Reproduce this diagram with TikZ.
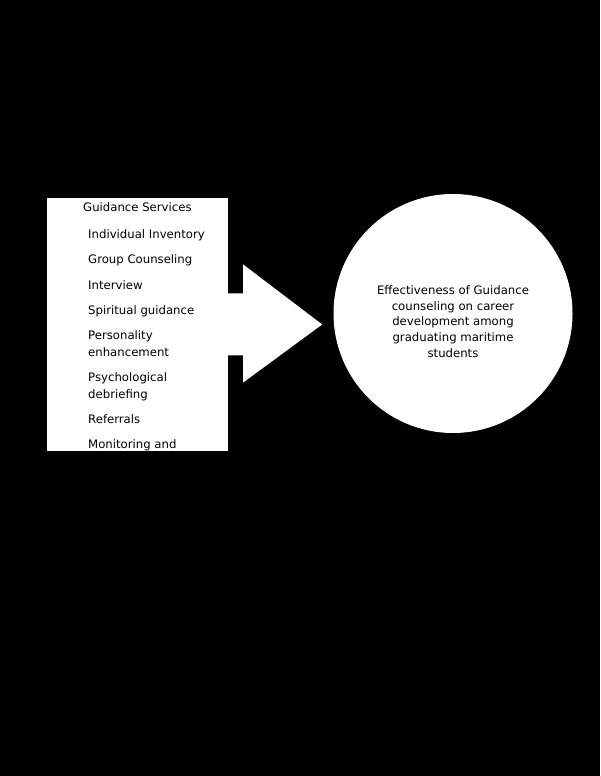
\documentclass[tikz,border=0pt]{standalone}
\usepackage{fontspec}
\setmainfont{DejaVu Sans}
\usetikzlibrary{positioning}

\begin{document}
\begin{tikzpicture}[x=1pt, y=1pt,
    every node/.style = {inner sep=0pt, font=\fontsize{11.7}{16.4}\selectfont},
    panel/.style = {shape=rectangle, fill=white,
      minimum width=181pt, minimum height=253pt},
    goal/.style = {shape=circle, fill=white, minimum size=239pt}]
  \useasboundingbox (0,0) rectangle (600,776);
  \fill[black] (0,0) rectangle (600,776);
  \node[panel] (services) at (137.5,451.5) {};
  \node[anchor=base west] (title) at (83,564) {Guidance Services};
  % last line sits on the baseline
  \node[anchor=base west, align=left] (items) at (88,327) {Individual Inventory\\[9pt]
      Group Counseling\\[9pt]
      Interview\\[9pt]
      Spiritual guidance\\[9pt]
      Personality\\enhancement\\[9pt]
      Psychological\\debriefing\\[9pt]
      Referrals\\[9pt]
      Monitoring and};
  \fill[white] (services.east) ++(0,31) -- ++(15,0) -- ++(0,29) -- ++(79,-60)
    -- ++(-79,-58) -- ++(0,27) -- ++(-15,0) -- cycle;
  \node[goal] (effect) at (453,462.5) {};
  \node[align=center, font=\fontsize{11.7}{15.7}\selectfont] (effecttext) at (453,454.5)
    {Effectiveness of Guidance\\counseling on career\\development among\\graduating maritime\\students};
\end{tikzpicture}
\end{document}
